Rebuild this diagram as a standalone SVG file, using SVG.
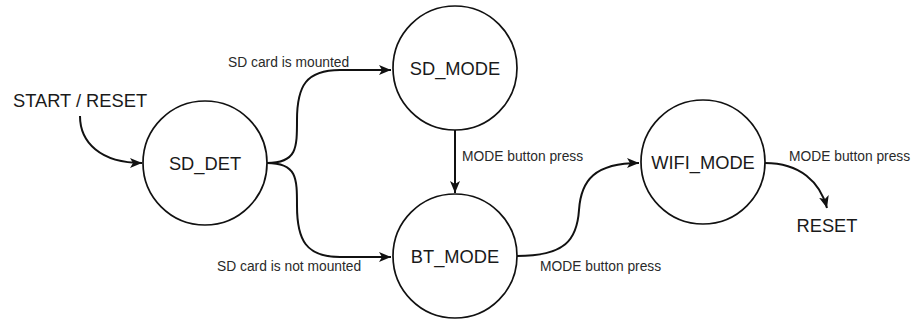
<svg xmlns="http://www.w3.org/2000/svg" width="913" height="322" viewBox="0 0 913 322">
  <style>
    .state circle { fill: #ffffff; stroke: #111111; stroke-width: 1.7; }
    .state text, .term { font-family: "Liberation Sans", Arial, sans-serif; font-size: 18.3px; fill: #1a1a1a; text-anchor: middle; }
    .edge { fill: none; stroke: #111111; stroke-width: 2; marker-end: url(#arrow); }
    .label { font-family: "Liberation Sans", Arial, sans-serif; font-size: 13.8px; fill: #2a2a2a; }
  </style>
  <defs>
    <marker id="arrow" viewBox="0 0 12 10" refX="12" refY="5" markerWidth="12" markerHeight="10" markerUnits="userSpaceOnUse" orient="auto">
      <path d="M0,0 L12,5 L0,10 L3,5 Z" fill="#111111"/>
    </marker>
  </defs>
  <rect width="913" height="322" fill="#ffffff"/>

  <g id="connectors">
    <path class="edge" d="M80,116 C80,142 100,163 142,163"/>
    <path class="edge" d="M267,163 C297,163 297,148 297,120 C297,86 306,70 340,70 L391,70"/>
    <path class="edge" d="M267,163 C297,163 297,178 297,206 C297,240 306,257 340,257 L391,257"/>
    <path class="edge" d="M455,130 L455,193"/>
    <path class="edge" d="M517,256 C565,256 577,240 579,210 C581,180 595,163 639,163"/>
    <path class="edge" d="M765,163 C800,163 820,182 827,208"/>
  </g>

  <g id="edge-labels">
    <text class="label" x="228" y="67">SD card is mounted</text>
    <text class="label" x="217" y="271">SD card is not mounted</text>
    <text class="label" x="462" y="161">MODE button press</text>
    <text class="label" x="540" y="271">MODE button press</text>
    <text class="label" x="789" y="161">MODE button press</text>
  </g>

  <g id="start-reset">
    <text class="term" x="80" y="107">START / RESET</text>
  </g>

  <g id="sd-det" class="state">
    <circle cx="205" cy="163" r="62"/>
    <text x="205" y="170">SD_DET</text>
  </g>

  <g id="sd-mode" class="state">
    <circle cx="455" cy="68" r="62"/>
    <text x="455" y="75">SD_MODE</text>
  </g>

  <g id="bt-mode" class="state">
    <circle cx="455" cy="256" r="62"/>
    <text x="455" y="263">BT_MODE</text>
  </g>

  <g id="wifi-mode" class="state">
    <circle cx="703" cy="162" r="62"/>
    <text x="703" y="169">WIFI_MODE</text>
  </g>

  <g id="reset">
    <text class="term" x="827" y="232">RESET</text>
  </g>
</svg>
